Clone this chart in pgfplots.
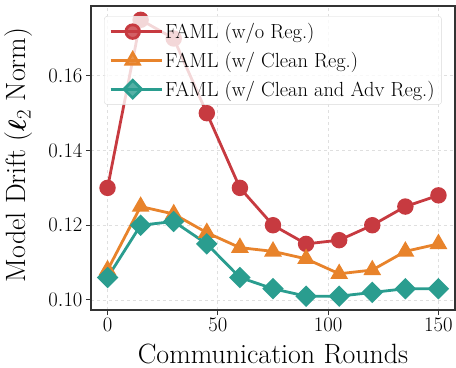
\documentclass[border=0pt]{standalone}
\usepackage{pgfplots}
\usepackage{amsmath,bm}
\pgfplotsset{compat=1.18}
\definecolor{cred}{HTML}{C73A40}
\definecolor{corange}{HTML}{E8832B}
\definecolor{cteal}{HTML}{2A9D8F}
\begin{document}
\begin{tikzpicture}[x=1bp,y=1bp]
\path[use as bounding box] (-91bp,-58bp) rectangle (365bp,310bp);
\begin{axis}[
  at={(0,0)}, anchor=south west,
  scale only axis, width=364bp, height=304bp,
  xmin=-7.5, xmax=157.5, ymin=0.0973, ymax=0.1787,
  xtick={0,50,100,150}, ytick={0.10,0.12,0.14,0.16},
  yticklabel style={/pgf/number format/.cd,fixed,fixed zerofill,precision=2},
  tick label style={font=\fontsize{22}{24}\selectfont},
  xlabel={Communication Rounds}, ylabel={Model Drift ($\bm{\ell}_2$ Norm)},
  label style={font=\fontsize{28}{30}\selectfont},
  xlabel style={at={(axis description cs:0.5,-0.176)}, anchor=base},
  ylabel style={at={(axis description cs:-0.198,0.51)}, anchor=center, rotate=0},
  grid=major, major grid style={dashed, gray!25, line width=0.8bp},
  axis line style={black!80, line width=1.2bp},
  tick style={black!80, line width=1bp},
  tick align=outside, major tick length=5bp,
  xtick pos=bottom, ytick pos=left,
  legend style={at={(0.036,0.967)}, anchor=north west, font=\fontsize{20.5}{22}\selectfont,
    draw=black!15, fill=white, fill opacity=0.8, text opacity=1, rounded corners=3bp,
    row sep=8bp, inner xsep=5bp, inner ysep=5bp},
  legend image code/.code={\path (-1bp,0bp) -- (50bp,0bp);\draw[mark repeat=2,mark phase=2] plot coordinates {(0bp,0bp)(21bp,0bp)(42bp,0bp)};},
  legend cell align=left,
  every axis plot/.append style={line width=2.8bp},
]
\addplot[cred, mark=*, mark size=6.8bp] coordinates {(0,0.130)(15,0.175)(30,0.170)(45,0.150)(60,0.130)(75,0.120)(90,0.115)(105,0.116)(120,0.120)(135,0.125)(150,0.128)};
\addlegendentry{FAML (w/o Reg.)}
\addplot[corange, mark=triangle*, mark size=7.5bp] coordinates {(0,0.108)(15,0.125)(30,0.123)(45,0.118)(60,0.114)(75,0.113)(90,0.111)(105,0.107)(120,0.108)(135,0.113)(150,0.115)};
\addlegendentry{FAML (w/ Clean Reg.)}
\addplot[cteal, mark=square*, mark size=6.2bp, mark options={rotate=45}] coordinates {(0,0.106)(15,0.120)(30,0.121)(45,0.115)(60,0.106)(75,0.103)(90,0.101)(105,0.101)(120,0.102)(135,0.103)(150,0.103)};
\addlegendentry{FAML (w/ Clean and Adv Reg.)}
\end{axis}
\end{tikzpicture}
\end{document}
